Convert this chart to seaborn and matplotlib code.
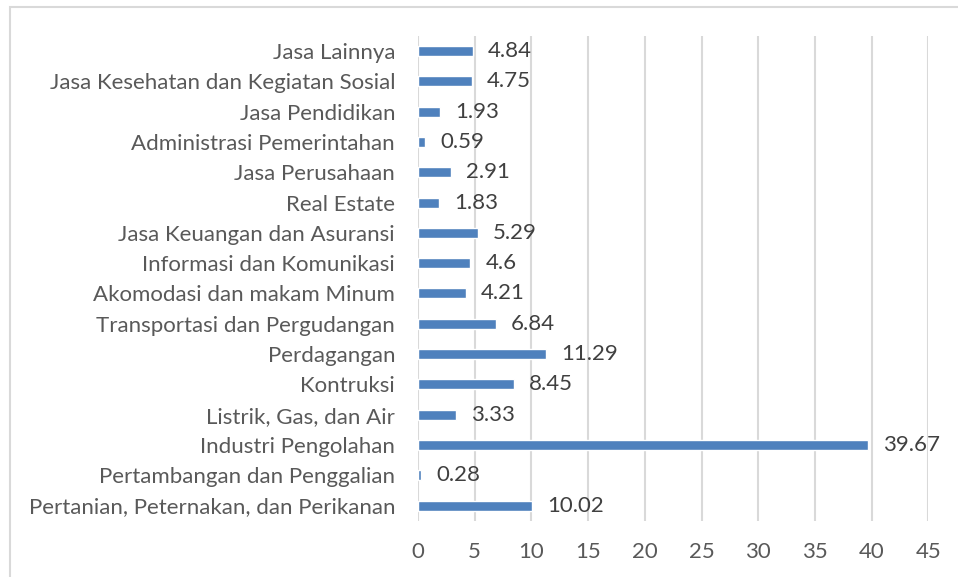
import matplotlib.pyplot as plt
import pandas as pd
import seaborn as sns
from matplotlib.patches import Rectangle

sectors = [
    "Jasa Lainnya",
    "Jasa Kesehatan dan Kegiatan Sosial",
    "Jasa Pendidikan",
    "Administrasi Pemerintahan",
    "Jasa Perusahaan",
    "Real Estate",
    "Jasa Keuangan dan Asuransi",
    "Informasi dan Komunikasi",
    "Akomodasi dan makam Minum",
    "Transportasi dan Pergudangan",
    "Perdagangan",
    "Kontruksi",
    "Listrik, Gas, dan Air",
    "Industri Pengolahan",
    "Pertambangan dan Penggalian",
    "Pertanian, Peternakan, dan Perikanan",
]
shares = [4.84, 4.75, 1.93, 0.59, 2.91, 1.83, 5.29, 4.6, 4.21, 6.84,
          11.29, 8.45, 3.33, 39.67, 0.28, 10.02]
xticks = [0, 5, 10, 15, 20, 25, 30, 35, 40, 45]

df = pd.DataFrame({"sektor": sectors, "nilai": shares})

sns.set_style("white")
plt.rcParams["font.family"] = ["Lato", "DejaVu Sans"]

fig = plt.figure(figsize=(9.58, 5.77), dpi=100)
ax = fig.add_axes([418 / 958, 1 - 520.7 / 577, (928.3 - 418) / 958, (520.7 - 36) / 577])

sns.barplot(data=df, x="nilai", y="sektor", color="#4f81bd", width=0.33,
            saturation=1, ax=ax, orient="h")

for c in ax.containers:
    ax.bar_label(c, labels=[f"{v:g}" for v in shares], padding=11,
                 fontsize=16, color="#404040")

ax.set_xlim(0, 45)
ax.set_ylim(15.5, -0.5)
ax.set_xticks(xticks)
ax.set_xticklabels([str(t) for t in xticks])
ax.xaxis.grid(True, color="#d9d9d9", linewidth=1.5)
ax.set_axisbelow(True)
ax.set_xlabel("")
ax.set_ylabel("")
for s in ax.spines.values():
    s.set_visible(False)
ax.tick_params(axis="both", length=0, labelsize=16, colors="#595959")
ax.tick_params(axis="x", pad=15)
ax.tick_params(axis="y", pad=16.5)

# chart border (cut at right and bottom like the reference)
fig.patches.append(Rectangle((10 / 958, -0.1), 1.2, 1 - 7 / 577 + 0.1,
                             transform=fig.transFigure, fill=False,
                             edgecolor="#d9d9d9", linewidth=1.5))

fig.savefig("out.png", dpi=100)
